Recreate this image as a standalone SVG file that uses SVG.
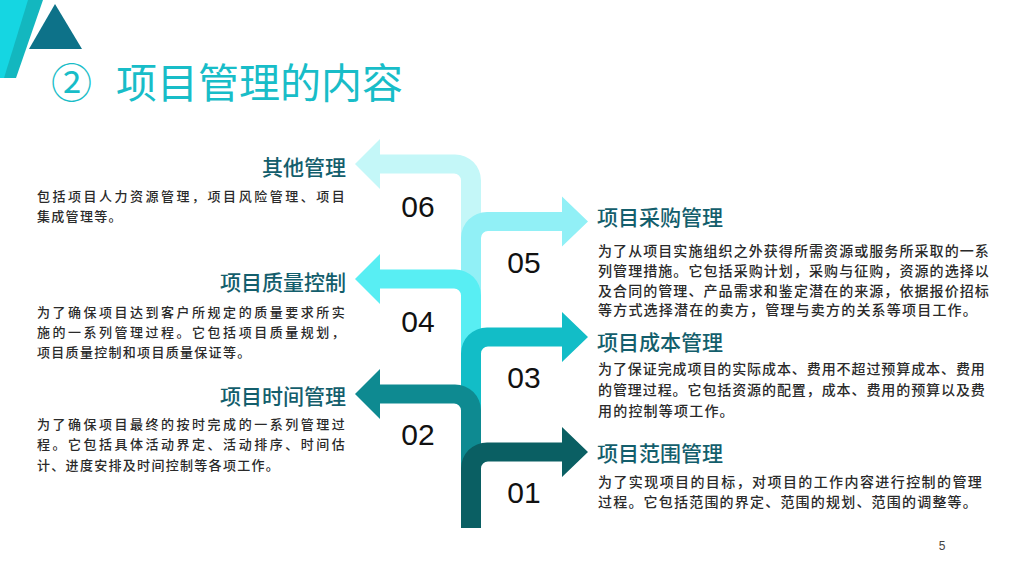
<svg xmlns="http://www.w3.org/2000/svg" width="1024" height="576" viewBox="0 0 1024 576">
<style>
.num{font-family:"Liberation Sans",Arial,sans-serif;font-size:30px;fill:#111;text-anchor:middle}
.head{font-family:"Noto Sans CJK SC",sans-serif;font-size:21px;fill:#135E6C;font-weight:500}
.headL{text-anchor:end}
.bodyL{font-family:"Noto Sans CJK SC",sans-serif;font-size:13px;letter-spacing:1.3px;fill:#2a2a2a;font-weight:500}
.bodyR{font-family:"Noto Sans CJK SC",sans-serif;font-size:14px;letter-spacing:1.2px;fill:#2a2a2a;font-weight:500}
</style>
<rect width="1024" height="576" fill="#fff"/>
<g id="decor">
<polygon points="0,0 43,0 16,78 0,78" fill="#13B7BF"/>
<polygon points="0,0 28,0 4,78 0,78" fill="#15D6E2"/>
<polygon points="55,4 82,49 29,49" fill="#0D7289"/>
</g>
<g id="title">
<text font-family="'Noto Sans CJK SC',sans-serif" font-size="41" fill="#18BDC8" y="98"><tspan x="51">②</tspan><tspan x="116">项目管理的内容</tspan></text>
</g>
<g id="connectors"></g>
<g id="item-06">
<path d="M481,528 L481,180.5 A26,26 0 0 0 455,154.5 L380,154.5 L380,139 L355,164 L380,189 L380,173.5 L454,173.5 A7,7 0 0 1 461,180.5 L461,528 Z" fill="#C4F7F8"/>
<text class="num" x="418" y="217">06</text>
<text class="head headL" x="346" y="175">其他管理</text>
<text class="bodyL" x="37" y="201" textLength="309" lengthAdjust="spacing">包括项目人力资源管理，项目风险管理、项目</text>
<text class="bodyL" x="37" y="221">集成管理等。</text>
</g>
<g id="item-05">
<path d="M461,528 L461,238 A26,26 0 0 1 487,212 L562,212 L562,196.5 L588,221.5 L562,246.5 L562,231 L488,231 A7,7 0 0 0 481,238 L481,528 Z" fill="#91F0F6"/>
<text class="num" x="524" y="273">05</text>
<text class="head" x="597" y="225">项目采购管理</text>
<text class="bodyR" x="598" y="256" textLength="392" lengthAdjust="spacing">为了从项目实施组织之外获得所需资源或服务所采取的一系</text>
<text class="bodyR" x="598" y="276" textLength="392" lengthAdjust="spacing">列管理措施。它包括采购计划，采购与征购，资源的选择以</text>
<text class="bodyR" x="598" y="296" textLength="392" lengthAdjust="spacing">及合同的管理、产品需求和鉴定潜在的来源，依据报价招标</text>
<text class="bodyR" x="598" y="315">等方式选择潜在的卖方，管理与卖方的关系等项目工作。</text>
</g>
<g id="item-04">
<path d="M481,528 L481,295.5 A26,26 0 0 0 455,269.5 L380,269.5 L380,254 L355,279 L380,304 L380,288.5 L454,288.5 A7,7 0 0 1 461,295.5 L461,528 Z" fill="#58EEF3"/>
<text class="num" x="418" y="332">04</text>
<text class="head headL" x="346" y="290">项目质量控制</text>
<text class="bodyL" x="37" y="317" textLength="309" lengthAdjust="spacing">为了确保项目达到客户所规定的质量要求所实</text>
<text class="bodyL" x="37" y="337" textLength="309" lengthAdjust="spacing">施的一系列管理过程。它包括项目质量规划，</text>
<text class="bodyL" x="37" y="357">项目质量控制和项目质量保证等。</text>
</g>
<g id="item-03">
<path d="M461,528 L461,353.5 A26,26 0 0 1 487,327.5 L562,327.5 L562,312 L588,337 L562,362 L562,346.5 L488,346.5 A7,7 0 0 0 481,353.5 L481,528 Z" fill="#12BDC7"/>
<text class="num" x="524" y="388">03</text>
<text class="head" x="597" y="350">项目成本管理</text>
<text class="bodyR" x="598" y="374" textLength="388" lengthAdjust="spacing">为了保证完成项目的实际成本、费用不超过预算成本、费用</text>
<text class="bodyR" x="598" y="395" textLength="388" lengthAdjust="spacing">的管理过程。它包括资源的配置，成本、费用的预算以及费</text>
<text class="bodyR" x="598" y="416">用的控制等项工作。</text>
</g>
<g id="item-02">
<path d="M481,528 L481,410.5 A26,26 0 0 0 455,384.5 L380,384.5 L380,369 L355,394 L380,419 L380,403.5 L454,403.5 A7,7 0 0 1 461,410.5 L461,528 Z" fill="#0E8A91"/>
<text class="num" x="418" y="445">02</text>
<text class="head headL" x="346" y="404">项目时间管理</text>
<text class="bodyL" x="37" y="429" textLength="309" lengthAdjust="spacing">为了确保项目最终的按时完成的一系列管理过</text>
<text class="bodyL" x="37" y="449" textLength="309" lengthAdjust="spacing">程。它包括具体活动界定、活动排序、时间估</text>
<text class="bodyL" x="37" y="470">计、进度安排及时间控制等各项工作。</text>
</g>
<g id="item-01">
<path d="M461,528 L461,468.5 A26,26 0 0 1 487,442.5 L562,442.5 L562,427 L588,452 L562,477 L562,461.5 L488,461.5 A7,7 0 0 0 481,468.5 L481,528 Z" fill="#0A5F63"/>
<text class="num" x="524" y="503">01</text>
<text class="head" x="597" y="461">项目范围管理</text>
<text class="bodyR" x="598" y="487" textLength="385" lengthAdjust="spacing">为了实现项目的目标，对项目的工作内容进行控制的管理</text>
<text class="bodyR" x="598" y="507">过程。它包括范围的界定、范围的规划、范围的调整等。</text>
</g>
<text id="page" x="942" y="550" font-family="'Liberation Sans',Arial,sans-serif" font-size="12" fill="#444" text-anchor="middle">5</text>
</svg>
